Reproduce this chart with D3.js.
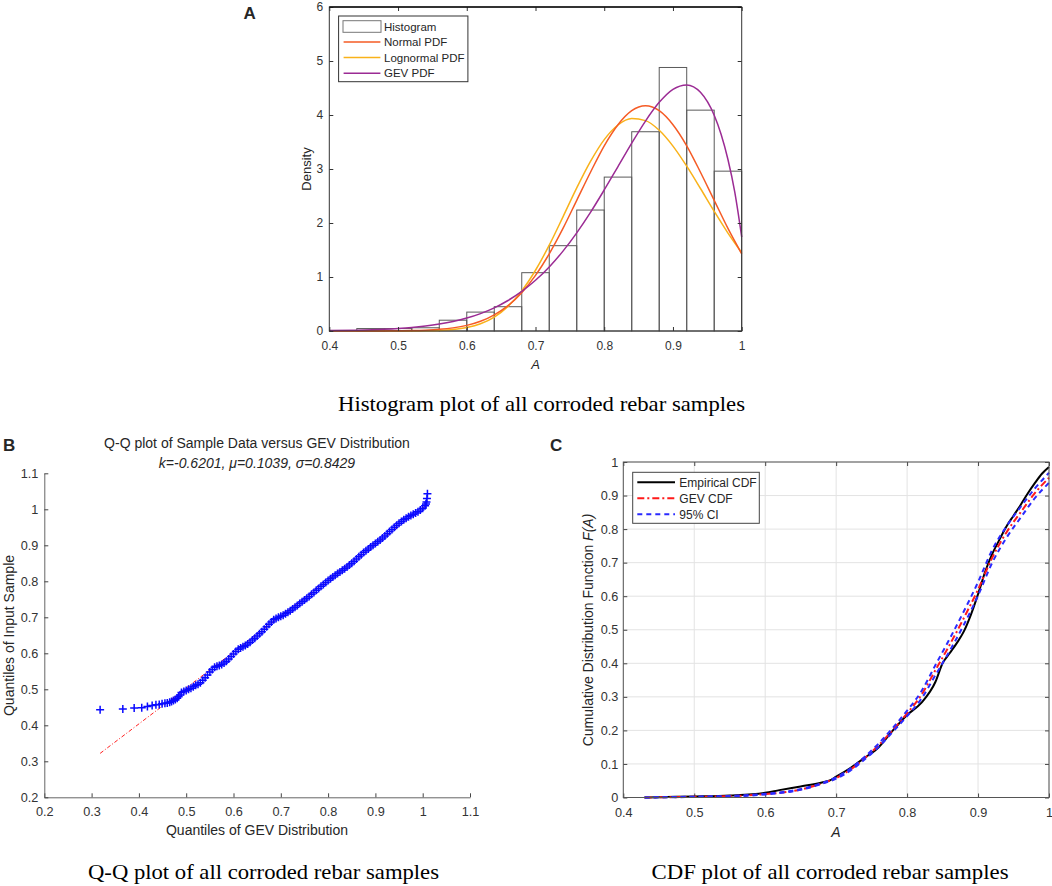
<!DOCTYPE html>
<html>
<head>
<meta charset="utf-8">
<script src="https://cdnjs.cloudflare.com/ajax/libs/d3/7.8.5/d3.min.js"></script>
<style>
  body { margin: 0; background: #fff; }
  text { font-family: "Liberation Sans", Arial, sans-serif; fill: #262626; }
  .caption { font-family: "Liberation Serif", "Times New Roman", serif; fill: #000; }
  .axis text { fill: #333; }
</style>
</head>
<body>
<div id="chart"></div>
<script>
// ---- panel A : histogram + fitted pdfs ----
var histLeft    = [0.44, 0.48, 0.52, 0.56, 0.60, 0.64, 0.68, 0.72, 0.76, 0.80, 0.84, 0.88, 0.92, 0.96];
var histDensity = [0.045, 0.045, 0.06, 0.20, 0.35, 0.45, 1.08, 1.58, 2.24, 2.85, 3.69, 4.88, 4.09, 2.96];
var binWidth = 0.04;

var pdfX       = [0.40, 0.44, 0.48, 0.52, 0.54, 0.56, 0.58, 0.60, 0.62, 0.64, 0.66, 0.68, 0.70, 0.72,
                  0.74, 0.76, 0.78, 0.80, 0.82, 0.84, 0.86, 0.88, 0.90, 0.92, 0.94, 0.96, 0.98, 1.00];
var normalPdf  = [0.000, 0.000, 0.002, 0.008, 0.016, 0.031, 0.058, 0.104, 0.18, 0.30, 0.47, 0.71, 1.03, 1.43,
                  1.90, 2.42, 2.94, 3.43, 3.82, 4.08, 4.17, 4.08, 3.82, 3.43, 2.94, 2.42, 1.90, 1.43];
var lognormPdf = [0.000, 0.000, 0.000, 0.001, 0.003, 0.010, 0.027, 0.063, 0.133, 0.258, 0.456, 0.743, 1.125, 1.59,
                  2.114, 2.649, 3.140, 3.544, 3.815, 3.934, 3.896, 3.717, 3.424, 3.052, 2.639, 2.217, 1.814, 1.45];

var gevX   = [0.40, 0.44, 0.48, 0.50, 0.52, 0.54, 0.56, 0.58, 0.60, 0.62, 0.64, 0.66, 0.68, 0.70, 0.72,
              0.74, 0.76, 0.78, 0.80, 0.82, 0.84, 0.86, 0.88, 0.90, 0.92, 0.94, 0.96, 0.97, 0.98, 0.99, 1.00];
var gevPdf = [0.007, 0.015, 0.032, 0.046, 0.065, 0.092, 0.128, 0.176, 0.239, 0.322, 0.429, 0.565, 0.733, 0.939, 1.187,
              1.479, 1.818, 2.197, 2.612, 3.044, 3.479, 3.888, 4.234, 4.475, 4.557, 4.420, 3.994, 3.642, 3.176, 2.567, 1.741];

var histXTicks = [0.4, 0.5, 0.6, 0.7, 0.8, 0.9, 1];
var histYTicks = [0, 1, 2, 3, 4, 5, 6];
var pdfNames   = ["Normal PDF", "Lognormal PDF", "GEV PDF"];

// ---- panel B : Q-Q plot ----
var qqGev = [0.318, 0.366, 0.390, 0.406, 0.418, 0.428, 0.436, 0.443, 0.449, 0.455, 0.460, 0.465, 0.469, 0.473,
  0.477, 0.481, 0.484, 0.487,
  0.490, 0.495, 0.500, 0.505, 0.510, 0.515, 0.520, 0.525, 0.530, 0.535, 0.540, 0.545, 0.550, 0.555,
  0.560, 0.565, 0.570, 0.575, 0.580, 0.585, 0.590, 0.595, 0.600, 0.605, 0.610, 0.615, 0.620, 0.625,
  0.630, 0.635, 0.640, 0.645, 0.650, 0.655, 0.660, 0.665, 0.670, 0.675, 0.680, 0.685, 0.690, 0.695,
  0.700, 0.705, 0.710, 0.715, 0.720, 0.725, 0.730, 0.735, 0.740, 0.745, 0.750, 0.755, 0.760, 0.765,
  0.770, 0.775, 0.780, 0.785, 0.790, 0.795, 0.800, 0.805, 0.810, 0.815, 0.820, 0.825, 0.830, 0.835,
  0.840, 0.845, 0.850, 0.855, 0.860, 0.865, 0.870, 0.875, 0.880, 0.885, 0.890, 0.895, 0.900, 0.905,
  0.910, 0.915, 0.920, 0.925, 0.930, 0.935, 0.940, 0.945, 0.950, 0.955, 0.960, 0.965, 0.970, 0.975,
  0.980, 0.985, 0.990, 0.995, 1.000, 1.005, 1.007, 1.008, 1.009, 1.010];
var qqSample = [0.443, 0.445, 0.448, 0.449, 0.452, 0.455, 0.457, 0.458, 0.460, 0.461, 0.462, 0.464, 0.466, 0.469,
  0.472, 0.475, 0.479, 0.484,
  0.491, 0.494, 0.497, 0.500, 0.503, 0.507, 0.511, 0.514, 0.518, 0.525, 0.532, 0.540, 0.548, 0.555,
  0.561, 0.564, 0.566, 0.569, 0.573, 0.578, 0.584, 0.591, 0.598, 0.605, 0.611, 0.615, 0.618, 0.622,
  0.626, 0.631, 0.637, 0.642, 0.648, 0.654, 0.660, 0.667, 0.674, 0.681, 0.687, 0.693, 0.697, 0.700,
  0.703, 0.706, 0.710, 0.714, 0.718, 0.723, 0.728, 0.733, 0.738, 0.743, 0.748, 0.753, 0.758, 0.764,
  0.769, 0.775, 0.780, 0.786, 0.791, 0.797, 0.802, 0.807, 0.812, 0.817, 0.822, 0.826, 0.831, 0.835,
  0.840, 0.845, 0.850, 0.856, 0.862, 0.868, 0.874, 0.880, 0.885, 0.890, 0.895, 0.900, 0.905, 0.910,
  0.915, 0.920, 0.926, 0.932, 0.938, 0.944, 0.950, 0.956, 0.961, 0.966, 0.971, 0.975, 0.979, 0.983,
  0.986, 0.990, 0.993, 0.998, 1.003, 1.010, 1.015, 1.020, 1.030, 1.043];
var qqRefX = [0.318, 1.010];
var qqRefY = [0.322, 1.013];
var qqTicks = [0.2, 0.3, 0.4, 0.5, 0.6, 0.7, 0.8, 0.9, 1, 1.1];

// ---- panel C : CDFs ----
var empX = [0.43, 0.45, 0.50, 0.55, 0.60, 0.62, 0.65, 0.68, 0.69, 0.70, 0.72, 0.74, 0.76, 0.78, 0.80, 0.82, 0.84,
            0.85, 0.86, 0.87, 0.88, 0.89, 0.90, 0.91, 0.92, 0.93, 0.94, 0.95, 0.96, 0.97, 0.98, 0.99, 1.00];
var empCdf = [0.000, 0.001, 0.003, 0.006, 0.014, 0.022, 0.033, 0.045, 0.050, 0.062, 0.088, 0.118, 0.150, 0.200, 0.246, 0.282, 0.345,
              0.400, 0.430, 0.460, 0.495, 0.545, 0.606, 0.673, 0.726, 0.768, 0.808, 0.840, 0.872, 0.906, 0.937, 0.965, 0.985];
var cdfX = [0.43, 0.45, 0.50, 0.55, 0.60, 0.62, 0.65, 0.68, 0.70, 0.72, 0.74, 0.76, 0.78, 0.80, 0.82, 0.84,
            0.86, 0.88, 0.90, 0.92, 0.94, 0.96, 0.98, 1.00];
var gevCdf  = [0, 0.0005, 0.002, 0.004, 0.010, 0.014, 0.024, 0.042, 0.058, 0.083, 0.117, 0.156, 0.202, 0.251, 0.305, 0.380,
               0.455, 0.535, 0.620, 0.715, 0.790, 0.850, 0.907, 0.953];
var ciUpper = [0, 0.0006, 0.0024, 0.0048, 0.011, 0.015, 0.025, 0.043, 0.060, 0.086, 0.121, 0.161, 0.208, 0.259, 0.316, 0.395,
               0.473, 0.555, 0.642, 0.738, 0.808, 0.866, 0.921, 0.968];
var ciLower = [0, 0.0004, 0.0016, 0.0032, 0.009, 0.013, 0.023, 0.041, 0.056, 0.080, 0.113, 0.151, 0.196, 0.243, 0.294, 0.365,
               0.437, 0.515, 0.602, 0.700, 0.774, 0.834, 0.892, 0.938];
var cdfXTicks = [0.4, 0.5, 0.6, 0.7, 0.8, 0.9, 1];
var cdfYTicks = [0, 0.1, 0.2, 0.3, 0.4, 0.5, 0.6, 0.7, 0.8, 0.9, 1];
var cdfNames = ["Empirical CDF", "GEV CDF", "95% CI"];

var fmt = d3.format("~g");

function main() {
  var svg = d3.select("#chart")
    .append("svg")
      .attr("width", 1052)
      .attr("height", 886);

  svg.append("rect").attr("width", 1052).attr("height", 886).attr("fill", "#fff");

  // ======================= A =======================
  var xA = d3.scaleLinear().domain([0.4, 1]).range([329.3, 741.7]);
  var yA = d3.scaleLinear().domain([0, 6]).range([331, 7]);

  // histogram bars
  svg.append("g")
    .selectAll("rect")
    .data(histLeft)
    .enter()
    .append("rect")
      .attr("x", function(d) { return xA(d); })
      .attr("y", function(d, i) { return yA(histDensity[i]); })
      .attr("width", function(d) { return xA(d + binWidth) - xA(d); })
      .attr("height", function(d, i) { return yA(0) - yA(histDensity[i]); })
      .attr("fill", "none")
      .attr("stroke", "#5a5a5a")
      .attr("stroke-width", 1);

  var pdfColors = ["#f55b25", "#f9b21a", "#9b2b94"];
  var lineA = d3.line()
    .x(function(d) { return xA(d[0]); })
    .y(function(d) { return yA(d[1]); })
    .curve(d3.curveMonotoneX);

  var pdfSeries = [d3.zip(pdfX, normalPdf), d3.zip(pdfX, lognormPdf), d3.zip(gevX, gevPdf)];
  // draw lognormal under normal like the figure
  [1, 0, 2].forEach(function(k) {
    svg.append("path")
      .attr("d", lineA(pdfSeries[k]))
      .attr("fill", "none")
      .attr("stroke", pdfColors[k])
      .attr("stroke-width", 1.5);
  });

  // axes A (inward ticks, box)
  svg.append("g").attr("class", "axis")
    .attr("transform", "translate(0,331)")
    .call(d3.axisBottom(xA).tickValues(histXTicks).tickFormat(fmt).tickSizeInner(-4).tickSizeOuter(0).tickPadding(10))
    .call(function(g) { g.select(".domain").remove(); })
    .selectAll("text").attr("font-size", "12px");
  svg.append("g").attr("class", "axis")
    .attr("transform", "translate(329.3,0)")
    .call(d3.axisLeft(yA).tickValues(histYTicks).tickFormat(fmt).tickSizeInner(-4).tickSizeOuter(0).tickPadding(6))
    .call(function(g) { g.select(".domain").remove(); })
    .selectAll("text").attr("font-size", "12px");
  svg.append("g")
    .attr("transform", "translate(0,7)")
    .call(d3.axisTop(xA).tickValues(histXTicks).tickFormat("").tickSizeInner(-4).tickSizeOuter(0))
    .call(function(g) { g.select(".domain").remove(); });
  svg.append("g")
    .attr("transform", "translate(741.7,0)")
    .call(d3.axisRight(yA).tickValues(histYTicks).tickFormat("").tickSizeInner(-4).tickSizeOuter(0))
    .call(function(g) { g.select(".domain").remove(); });
  svg.selectAll(".tick line").attr("stroke", "#333");

  svg.append("rect")
    .attr("x", 329.3).attr("y", 7)
    .attr("width", 741.7 - 329.3).attr("height", 331 - 7)
    .attr("fill", "none").attr("stroke", "#333").attr("stroke-width", 1);
  // top edge is drawn darker in the figure
  svg.append("line")
    .attr("x1", 329.3).attr("x2", 741.7).attr("y1", 7).attr("y2", 7)
    .attr("stroke", "#111").attr("stroke-width", 1.6);

  svg.append("text")
    .attr("transform", "translate(311,169) rotate(-90)")
    .attr("text-anchor", "middle")
    .attr("font-size", "13px")
    .text("Density");
  svg.append("text")
    .attr("x", 535.5).attr("y", 368.5)
    .attr("text-anchor", "middle")
    .attr("font-size", "13px")
    .attr("font-style", "italic")
    .text("A");

  // legend A
  var legA = svg.append("g");
  legA.append("rect")
    .attr("x", 338.6).attr("y", 16).attr("width", 129.3).attr("height", 65.7)
    .attr("fill", "#fff").attr("stroke", "#333").attr("stroke-width", 1);
  legA.append("rect")
    .attr("x", 343).attr("y", 20.7).attr("width", 38).attr("height", 11.6)
    .attr("fill", "#fff").attr("stroke", "#777");
  legA.append("text")
    .attr("x", 384).attr("y", 26.5).attr("dy", "0.35em")
    .attr("font-size", "11.5px").text("Histogram");
  pdfNames.forEach(function(name, i) {
    var yy = 42 + i * 15.6;
    legA.append("line")
      .attr("x1", 343.6).attr("x2", 380.4).attr("y1", yy).attr("y2", yy)
      .attr("stroke", pdfColors[i]).attr("stroke-width", 1.5);
    legA.append("text")
      .attr("x", 384).attr("y", yy).attr("dy", "0.35em")
      .attr("font-size", "11.5px").text(name);
  });

  svg.append("text")
    .attr("x", 243.5).attr("y", 19)
    .attr("font-size", "17px").attr("font-weight", "bold").attr("fill", "#000")
    .text("A");

  // ======================= B =======================
  var xB = d3.scaleLinear().domain([0.2, 1.1]).range([44.3, 470]);
  var yB = d3.scaleLinear().domain([0.2, 1.1]).range([797.3, 473.3]);

  var gB = svg.append("g");
  gB.append("g").attr("class", "axis")
    .attr("transform", "translate(0,797.3)")
    .call(d3.axisBottom(xB).tickValues(qqTicks).tickFormat(fmt).tickSizeInner(-4).tickSizeOuter(0).tickPadding(10))
    .selectAll("text").attr("font-size", "12.7px");
  gB.append("g").attr("class", "axis")
    .attr("transform", "translate(44.3,0)")
    .call(d3.axisLeft(yB).tickValues(qqTicks).tickFormat(fmt).tickSizeInner(-4).tickSizeOuter(0).tickPadding(6))
    .selectAll("text").attr("font-size", "12.7px");
  gB.selectAll(".domain").attr("stroke", "#666");
  gB.selectAll(".tick line").attr("stroke", "#444");

  // reference line (dash-dot) under the markers
  gB.append("path")
    .attr("d", d3.line()
      .x(function(d) { return xB(d[0]); })
      .y(function(d) { return yB(d[1]); })(d3.zip(qqRefX, qqRefY)))
    .attr("stroke", "#ff2020")
    .attr("stroke-width", 1)
    .attr("stroke-dasharray", "4,2,1,2")
    .attr("fill", "none");

  // '+' markers, thick enough to merge into a band like the figure
  gB.append("g")
    .selectAll("path")
    .data(d3.zip(qqGev, qqSample))
    .enter()
    .append("path")
      .attr("transform", function(d) { return "translate(" + xB(d[0]) + "," + yB(d[1]) + ")"; })
      .attr("d", "M-4,0H4M0,-4V4")
      .attr("stroke", "#0a0aff")
      .attr("stroke-width", 1.5)
      .attr("fill", "none");

  gB.append("text")
    .attr("x", 257).attr("y", 448.3)
    .attr("text-anchor", "middle").attr("font-size", "14px")
    .text("Q-Q plot of Sample Data versus GEV Distribution");
  gB.append("text")
    .attr("x", 257).attr("y", 468.3)
    .attr("text-anchor", "middle").attr("font-size", "14px").attr("font-style", "italic")
    .text("k=-0.6201, \u03bc=0.1039, \u03c3=0.8429");
  gB.append("text")
    .attr("x", 257).attr("y", 835)
    .attr("text-anchor", "middle").attr("font-size", "14px")
    .text("Quantiles of GEV Distribution");
  gB.append("text")
    .attr("transform", "translate(14,635.5) rotate(-90)")
    .attr("text-anchor", "middle").attr("font-size", "14px")
    .text("Quantiles of Input Sample");

  svg.append("text")
    .attr("x", 3).attr("y", 451)
    .attr("font-size", "17px").attr("font-weight", "bold").attr("fill", "#000")
    .text("B");

  // ======================= C =======================
  var xC = d3.scaleLinear().domain([0.4, 1]).range([623.3, 1049]);
  var yC = d3.scaleLinear().domain([0, 1]).range([797.5, 462]);
  var gC = svg.append("g");

  // grid
  gC.append("g")
    .selectAll("line")
    .data(cdfXTicks)
    .enter()
    .append("line")
      .attr("x1", function(d) { return xC(d); })
      .attr("x2", function(d) { return xC(d); })
      .attr("y1", 462).attr("y2", 797.5)
      .attr("stroke", "#e3e3e3");
  gC.append("g")
    .selectAll("line")
    .data(cdfYTicks)
    .enter()
    .append("line")
      .attr("y1", function(d) { return yC(d); })
      .attr("y2", function(d) { return yC(d); })
      .attr("x1", 623.3).attr("x2", 1049)
      .attr("stroke", "#e3e3e3");

  gC.append("g").attr("class", "axis")
    .attr("transform", "translate(0,797.5)")
    .call(d3.axisBottom(xC).tickValues(cdfXTicks).tickFormat(fmt).tickSizeInner(-4).tickSizeOuter(0).tickPadding(10))
    .call(function(g) { g.select(".domain").remove(); })
    .selectAll("text").attr("font-size", "12.7px");
  gC.append("g").attr("class", "axis")
    .attr("transform", "translate(623.3,0)")
    .call(d3.axisLeft(yC).tickValues(cdfYTicks).tickFormat(fmt).tickSizeInner(-4).tickSizeOuter(0).tickPadding(5))
    .call(function(g) { g.select(".domain").remove(); })
    .selectAll("text").attr("font-size", "12.7px");
  gC.append("g")
    .attr("transform", "translate(0,462)")
    .call(d3.axisTop(xC).tickValues(cdfXTicks).tickFormat("").tickSizeInner(-4).tickSizeOuter(0))
    .call(function(g) { g.select(".domain").remove(); });
  gC.append("g")
    .attr("transform", "translate(1049,0)")
    .call(d3.axisRight(yC).tickValues(cdfYTicks).tickFormat("").tickSizeInner(-4).tickSizeOuter(0))
    .call(function(g) { g.select(".domain").remove(); });
  gC.selectAll(".tick line").attr("stroke", "#444");

  var lineC = d3.line()
    .x(function(d) { return xC(d[0]); })
    .y(function(d) { return yC(d[1]); })
    .curve(d3.curveMonotoneX);

  gC.append("path")
    .attr("d", lineC(d3.zip(empX, empCdf)))
    .attr("fill", "none").attr("stroke", "#000").attr("stroke-width", 2);
  gC.append("path")
    .attr("d", lineC(d3.zip(cdfX, gevCdf)))
    .attr("fill", "none").attr("stroke", "#ff1a1a").attr("stroke-width", 2)
    .attr("stroke-dasharray", "7,3,2,3");
  [ciUpper, ciLower].forEach(function(ci) {
    gC.append("path")
      .attr("d", lineC(d3.zip(cdfX, ci)))
      .attr("fill", "none").attr("stroke", "#2a2aff").attr("stroke-width", 2)
      .attr("stroke-dasharray", "5,4");
  });

  gC.append("rect")
    .attr("x", 623.3).attr("y", 462)
    .attr("width", 1049 - 623.3).attr("height", 797.5 - 462)
    .attr("fill", "none").attr("stroke", "#555").attr("stroke-width", 1);

  // legend C
  var legC = gC.append("g");
  legC.append("rect")
    .attr("x", 632.7).attr("y", 472.3).attr("width", 126.6).attr("height", 51)
    .attr("fill", "#fff").attr("stroke", "#444").attr("stroke-width", 1);
  var legStroke = ["#000", "#ff1a1a", "#2a2aff"];
  var legDash = [null, "7,3,2,3", "5,4"];
  cdfNames.forEach(function(name, i) {
    var yy = 482.3 + i * 16;
    legC.append("line")
      .attr("x1", 637.3).attr("x2", 675).attr("y1", yy).attr("y2", yy)
      .attr("stroke", legStroke[i]).attr("stroke-width", 2)
      .attr("stroke-dasharray", legDash[i]);
    legC.append("text")
      .attr("x", 679.3).attr("y", yy).attr("dy", "0.35em")
      .attr("font-size", "12px").text(name);
  });

  var ylabC = gC.append("text")
    .attr("transform", "translate(593,630) rotate(-90)")
    .attr("text-anchor", "middle").attr("font-size", "14px");
  ylabC.append("tspan").text("Cumulative Distribution Function ");
  ylabC.append("tspan").attr("font-style", "italic").text("F(A)");
  gC.append("text")
    .attr("x", 836).attr("y", 836.7)
    .attr("text-anchor", "middle").attr("font-size", "14px").attr("font-style", "italic")
    .text("A");

  svg.append("text")
    .attr("x", 550).attr("y", 451)
    .attr("font-size", "17px").attr("font-weight", "bold").attr("fill", "#000")
    .text("C");

  // ======================= captions =======================
  var captions = [
    {t: "Histogram plot of all corroded rebar samples", x: 541.5, y: 410.7, w: 407},
    {t: "Q-Q plot of all corroded rebar samples", x: 263.5, y: 879.3, w: 351},
    {t: "CDF plot of all corroded rebar samples", x: 830, y: 879.3, w: 357}
  ];
  svg.selectAll(".caption")
    .data(captions)
    .enter()
    .append("text")
      .attr("class", "caption")
      .attr("x", function(d) { return d.x; })
      .attr("y", function(d) { return d.y; })
      .attr("text-anchor", "middle")
      .attr("font-size", "21.5px")
      .attr("textLength", function(d) { return d.w; })
      .attr("lengthAdjust", "spacingAndGlyphs")
      .text(function(d) { return d.t; });
}

main();
</script>
</body>
</html>
